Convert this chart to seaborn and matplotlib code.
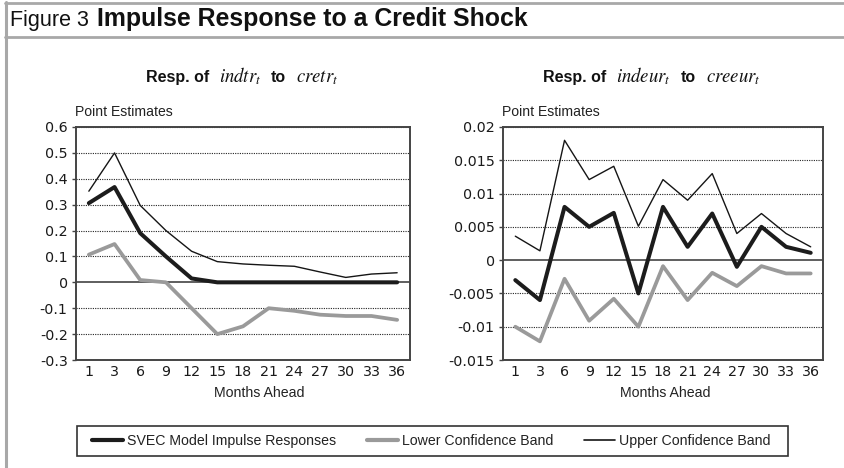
import matplotlib
matplotlib.use("Agg")
import matplotlib.pyplot as plt
import seaborn as sns
import pandas as pd
from matplotlib.lines import Line2D
from matplotlib.patches import Rectangle
from matplotlib.offsetbox import TextArea, HPacker, AnnotationBbox

# ---- data ----
months = ["1", "3", "6", "9", "12", "15", "18", "21", "24", "27", "30", "33", "36"]

tr_svec = [0.306, 0.368, 0.19, 0.10, 0.015, 0.0, 0.0, 0.0, 0.0, 0.0, 0.0, 0.0, 0.0]
tr_lower = [0.107, 0.148, 0.009, 0.0, -0.10, -0.20, -0.17, -0.10, -0.11, -0.125, -0.13, -0.13, -0.145]
tr_upper = [0.352, 0.50, 0.297, 0.20, 0.12, 0.08, 0.071, 0.066, 0.062, 0.04, 0.019, 0.032, 0.037]

eu_svec = [-0.003, -0.006, 0.008, 0.005, 0.0071, -0.005, 0.008, 0.002, 0.007, -0.001, 0.005, 0.002, 0.0011]
eu_lower = [-0.010, -0.0122, -0.0028, -0.0091, -0.0058, -0.010, -0.0009, -0.006, -0.0019, -0.0039, -0.0009, -0.002, -0.002]
eu_upper = [0.0036, 0.0014, 0.018, 0.0121, 0.0141, 0.0051, 0.0121, 0.009, 0.013, 0.004, 0.007, 0.004, 0.002]

series_names = ["SVEC Model Impulse Responses", "Lower Confidence Band", "Upper Confidence Band"]

tr_yticks = [0.6, 0.5, 0.4, 0.3, 0.2, 0.1, 0.0, -0.1, -0.2, -0.3]
tr_ylabels = ["0.6", "0.5", "0.4", "0.3", "0.2", "0.1", "0", "-0.1", "-0.2", "-0.3"]
eu_yticks = [0.02, 0.015, 0.01, 0.005, 0.0, -0.005, -0.01, -0.015]
eu_ylabels = ["0.02", "0.015", "0.01", "0.005", "0", "-0.005", "-0.01", "-0.015"]

fig_title_a = "Figure 3"
fig_title_b = "Impulse Response to a Credit Shock"
sub_left = ["Resp. of", r"$indtr_t$", "to", r"$cretr_t$"]
sub_right = ["Resp. of", r"$indeur_t$", "to", r"$creeur_t$"]
ylab = "Point Estimates"
xlab = "Months Ahead"

# ---- style ----
sns.set_style("white")
plt.rcParams["font.family"] = ["DejaVu Sans"]
plt.rcParams["axes.unicode_minus"] = False
plt.rcParams["mathtext.fontset"] = "stix"

colors = {"SVEC Model Impulse Responses": "#1c1c1c",
          "Lower Confidence Band": "#9a9a9a",
          "Upper Confidence Band": "#151515"}
widths = {"SVEC Model Impulse Responses": 2.9,
          "Lower Confidence Band": 2.7,
          "Upper Confidence Band": 1.0}
zorders = {"SVEC Model Impulse Responses": 4,
           "Lower Confidence Band": 3,
           "Upper Confidence Band": 5}

W, H = 844, 468
fig = plt.figure(figsize=(W / 100, H / 100), dpi=100)
fig.patch.set_facecolor("white")


def fx(px):
    return px / W


def fy(py):
    return 1 - py / H


def make_df(svec, lower, upper):
    rows = []
    for name, vals in zip(series_names, [svec, lower, upper]):
        for m, v in zip(months, vals):
            rows.append({"month": m, "value": v, "series": name})
    return pd.DataFrame(rows)


def panel(rect, df, yticks, ylabels, ymin, ymax):
    ax = fig.add_axes(rect)
    for name in series_names:
        sub = df[df["series"] == name]
        sns.lineplot(data=sub, x="month", y="value", ax=ax, sort=False,
                     color=colors[name], linewidth=widths[name],
                     zorder=zorders[name], legend=False)
    for t in yticks:
        if t == 0:
            ax.axhline(t, color="#333333", lw=1.1, zorder=2)
        else:
            ax.axhline(t, color="#222222", lw=0.8, ls=(0, (1, 1.1)), zorder=1)
    ax.set_ylim(ymin, ymax)
    ax.set_xlim(-0.5, len(months) - 0.5)
    ax.set_yticks(yticks)
    ax.set_yticklabels(ylabels)
    ax.tick_params(axis="y", length=3, width=1, color="#444444", pad=3,
                   labelsize=10.3, labelcolor="#1a1a1a", left=True)
    ax.tick_params(axis="x", length=0, pad=3.5, labelsize=10.3, labelcolor="#1a1a1a")
    ax.set_xlabel("")
    ax.set_ylabel("")
    for s in ax.spines.values():
        s.set_color("#444444")
        s.set_linewidth(1.4)
        s.set_visible(True)
    return ax


ax1 = panel([fx(76), fy(360), fx(334), fy(127) - fy(360)],
            make_df(tr_svec, tr_lower, tr_upper), tr_yticks, tr_ylabels, -0.3, 0.6)
ax2 = panel([fx(503), fy(360), fx(320), fy(127) - fy(360)],
            make_df(eu_svec, eu_lower, eu_upper), eu_yticks, eu_ylabels, -0.015, 0.02)

# axis texts
label_font = ["Liberation Sans", "DejaVu Sans"]
for xl in [75, 502]:
    fig.text(fx(xl), fy(112), ylab, ha="left", va="center", fontsize=10.1,
             family=label_font, color="#222222")
for xc in [259, 665]:
    fig.text(fx(xc), fy(393), xlab, ha="center", va="center", fontsize=10.2,
             family=label_font, color="#222222")


# subtitles (bold sans + italic serif pieces)
def subtitle(parts, xc, yc):
    kids = []
    for p in parts:
        if p.startswith("$"):
            kids.append(TextArea(p, textprops=dict(fontsize=13.5, color="#111111")))
        else:
            kids.append(TextArea(p, textprops=dict(fontsize=11.5, fontweight="bold",
                                                   family=label_font, color="#111111")))
    pack = HPacker(children=kids, align="baseline", pad=0, sep=7)
    ab = AnnotationBbox(pack, (fx(xc), fy(yc)), xycoords="figure fraction",
                        frameon=False, box_alignment=(0.5, 0.5), pad=0)
    fig.add_artist(ab)


subtitle(sub_left, 242, 76)
subtitle(sub_right, 652, 76)

# title
fig.text(fx(10), fy(26), fig_title_a, ha="left", va="baseline", fontsize=15.5,
         family=label_font, color="#111111")
fig.text(fx(97), fy(26), fig_title_b, ha="left", va="baseline", fontsize=17.9,
         fontweight="bold", family=label_font, color="#111111")

# frame lines
frame_c = "#a8a8a8"
fig.add_artist(Line2D([fx(6), fx(6)], [0, fy(2)], transform=fig.transFigure, color=frame_c, lw=2.2))
fig.add_artist(Line2D([fx(5), 1], [fy(3), fy(3)], transform=fig.transFigure, color=frame_c, lw=2.0))
fig.add_artist(Line2D([fx(5), 1], [fy(36.5), fy(36.5)], transform=fig.transFigure, color=frame_c, lw=2.0))

# legend
handles = [Line2D([], [], color=colors[n], lw={0: 3.0, 1: 3.0, 2: 1.2}[i])
           for i, n in enumerate(series_names)]
leg = fig.legend(handles, series_names, loc="center left", bbox_to_anchor=(fx(92), fy(441)),
                 ncol=3, frameon=False, handlelength=2.2, handletextpad=0.28,
                 columnspacing=2.15, borderpad=0, borderaxespad=0,
                 prop={"family": label_font, "size": 10.2})
for t in leg.get_texts():
    t.set_color("#222222")
fig.add_artist(Rectangle((fx(77), fy(456)), fx(788) - fx(77), fy(426) - fy(456),
                         transform=fig.transFigure, fill=False, edgecolor="#333333", lw=1.2))

fig.savefig("out.png", dpi=100, facecolor="white")
